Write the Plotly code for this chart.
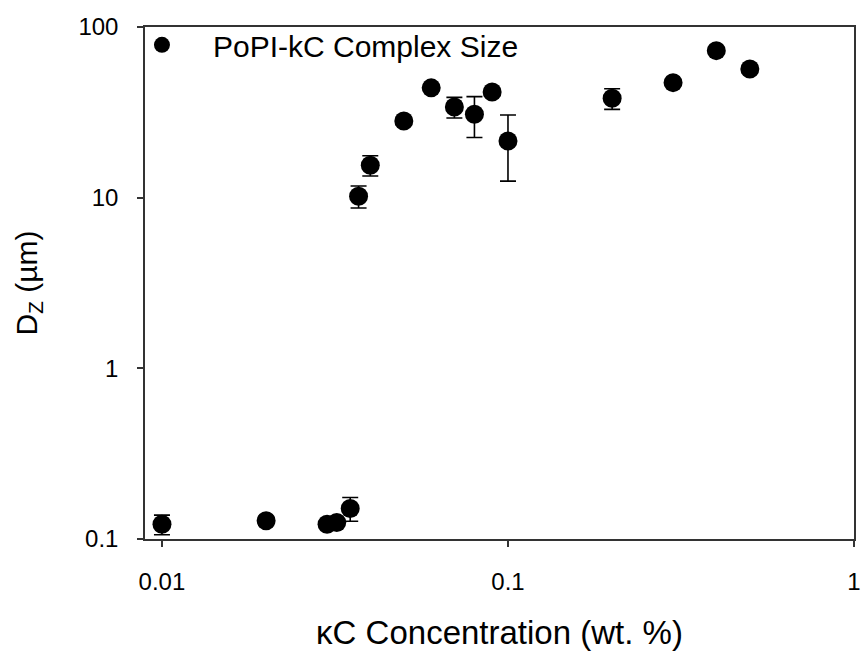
import plotly.graph_objects as go

# kC concentration (wt. %) and complex size Dz (um)
conc = [0.01, 0.02, 0.03, 0.032, 0.035, 0.037, 0.04, 0.05, 0.06, 0.07,
        0.08, 0.09, 0.1, 0.2, 0.3, 0.4, 0.5]
dz = [0.122, 0.128, 0.122, 0.125, 0.151, 10.2, 15.5, 28.1, 44.0, 34.0,
      30.8, 41.6, 21.5, 38.2, 47.2, 72.7, 56.7]
dz_err = [0.016, 0.008, 0.004, 0.005, 0.024, 1.5, 2.1, 1.5, 2.0, 4.7,
          8.3, 2.0, 9.0, 5.3, 2.0, 3.0, 3.0]

x_ticks = [0.01, 0.1, 1]
x_ticktext = ["0.01", "0.1", "1"]
y_ticks = [0.1, 1, 10, 100]
y_ticktext = ["0.1", "1", "10", "100"]

fig = go.Figure()
fig.add_trace(go.Scatter(
    x=conc, y=dz, mode="markers", name="PoPI-kC Complex Size",
    marker=dict(color="black", size=19, symbol="circle"),
    error_y=dict(type="data", array=dz_err, visible=True,
                 color="black", thickness=1.6, width=8),
))

axis_common = dict(
    type="log", showgrid=False, zeroline=False, showline=True,
    linecolor="#333333", linewidth=1.5, mirror=True, automargin=False,
    ticks="outside", ticklen=6, tickwidth=1.5, tickcolor="#333333",
    tickfont=dict(family="Liberation Sans, Arial", size=24, color="black"),
    ticklabeloverflow="allow",
)

fig.update_layout(
    width=862, height=653,
    margin=dict(l=145, r=8, t=27, b=114),
    plot_bgcolor="white", paper_bgcolor="white",
    font=dict(family="Liberation Sans, Arial", color="black"),
    xaxis=dict(axis_common, range=[-2.049, 0], tickvals=x_ticks,
               ticktext=x_ticktext, ticklabelstandoff=14,
               title=dict(text="\u03baC Concentration (wt. %)",
                          font=dict(size=33), standoff=27)),
    yaxis=dict(axis_common, range=[-1, 2], tickvals=y_ticks,
               ticktext=y_ticktext, ticklabelstandoff=14,
               title=dict(text="D<sub>Z</sub> (\u00b5m)",
                          font=dict(size=30), standoff=32)),
    showlegend=True,
    legend=dict(x=-0.048, y=1.016, xanchor="left", yanchor="top",
                bgcolor="rgba(0,0,0,0)", font=dict(size=30),
                itemwidth=92, itemsizing="trace"),
)

# drop the default 8px body margin so the figure fills the window
fig.write_html("out.html", config={"displayModeBar": False},
               post_script="document.body.style.margin = '0px';")
